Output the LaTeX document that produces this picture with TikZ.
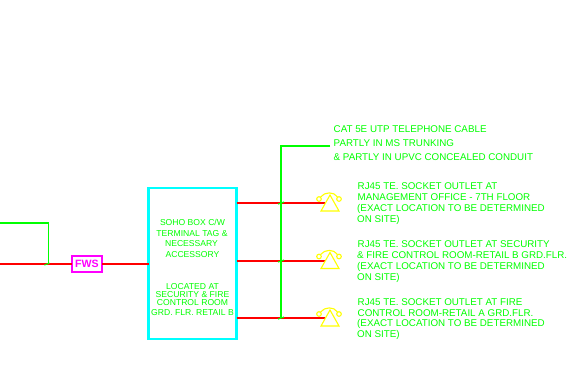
\documentclass[tikz,border=0pt]{standalone}
\usepackage{fontspec}
\setmainfont{Liberation Sans}
\usetikzlibrary{calc}
\definecolor{cy}{RGB}{0,255,255}
\definecolor{mg}{RGB}{255,0,255}
\definecolor{gn}{RGB}{0,255,0}
\definecolor{yl}{RGB}{255,255,0}
\tikzset{
  lbl/.style={text=gn,font=\fontsize{9.8}{10}\selectfont,inner sep=0pt,anchor=base west},
  boxlbl/.style={text=gn,font=\fontsize{8.6}{9}\selectfont,inner sep=0pt,anchor=base},
  redline/.style={draw=red,line width=1.9pt},
  greenline/.style={draw=gn,line width=1.9pt},
  tick/.style={draw=gn,line width=1.1pt},
  phone/.pic={
    \draw[yl,line width=1.1pt,line join=miter] (0,-16) -- (-9,0) -- (9,0) -- cycle;
    \draw[yl,line width=1.1pt] (-11,-12) circle (2.3) (9,-12) circle (2.3);
    \draw[yl,line width=1.1pt] (-9.5,-14) .. controls (-5,-19.5) and (4,-19.5) .. (7.5,-14);
  }
}
\begin{document}
\begin{tikzpicture}[x=1pt,y=-1pt]
\useasboundingbox (0,0) rectangle (572,368);
% nodes
\node[draw=cy,line width=2.1pt,outer sep=0pt,minimum width=88pt,minimum height=151pt,inner sep=0pt,anchor=north west] (soho) at (148.5,188) {};
\node[draw=mg,line width=1.9pt,outer sep=0pt,fill=white,minimum width=30pt,minimum height=16pt,inner sep=0pt,text=mg,font=\fontsize{10.6}{10}\selectfont\bfseries] (fws) at (87,264) {FWS};
\coordinate (w) at (0,264);
\coordinate (gw) at (0,223);
\coordinate (gc) at (48.5,223);
\coordinate (gj) at (48.5,264);
\coordinate (top) at (281,146);
\coordinate (topr) at (330,146);
\coordinate (o1) at (236.5,203);
\coordinate (o2) at (236.5,261);
\coordinate (o3) at (236.5,318);
\coordinate (p1) at (325,203);
\coordinate (p2) at (325,261);
\coordinate (p3) at (325,318);
\coordinate (j1) at (281,203);
\coordinate (j2) at (281,261);
\coordinate (j3) at (281,318);
% connectors
\draw[redline] (w) -- (fws.west);
\draw[redline] (fws.east) -- (soho.west |- fws.east);
\draw[redline] (o1) -- (p1);
\draw[redline] (o2) -- (p2);
\draw[redline] (o3) -- (p3);
\draw[greenline] (gw) -- (gc) -- (gj);
\draw[greenline,line join=miter] (topr) -- (top) -- (j3);
\foreach \j in {j1,j2,j3}{\draw[tick] ($(\j)+(-3,1)$) -- ($(\j)+(3,-1)$);}
\draw[tick] ($(gj)+(-4,1)$) -- ($(gj)+(1,-1)$);
% phones
\pic at (330,211) {phone};
\pic at (330,268.5) {phone};
\pic at (330,326) {phone};
% labels
\node[boxlbl] (b1) at (192.5,225.5) {SOHO BOX C/W};
\node[boxlbl] (b2) at (192,236) {TERMINAL TAG \&};
\node[boxlbl] (b3) at (191.5,246) {NECESSARY};
\node[boxlbl] (b4) at (192.5,257) {ACCESSORY};
\node[boxlbl] (b5) at (192.5,289) {LOCATED AT};
\node[boxlbl] (b6) at (192.5,297.5) {SECURITY \& FIRE};
\node[boxlbl] (b7) at (192.5,305.5) {CONTROL ROOM};
\node[boxlbl] (b8) at (192.5,315.5) {GRD. FLR. RETAIL B};
\node[lbl] (c1) at (333.5,132) {CAT 5E UTP TELEPHONE CABLE};
\node[lbl] (c2) at (333.5,146) {PARTLY IN MS TRUNKING};
\node[lbl] (c3) at (333.5,160) {\& PARTLY IN UPVC CONCEALED CONDUIT};
\node[lbl] (a1) at (357.5,189) {RJ45 TE. SOCKET OUTLET AT};
\node[lbl] (a2) at (357.5,200) {MANAGEMENT OFFICE - 7TH FLOOR};
\node[lbl] (a3) at (357,211) {(EXACT LOCATION TO BE DETERMINED};
\node[lbl] (a4) at (357,222) {ON SITE)};
\node[lbl] (d1) at (357.5,247) {RJ45 TE. SOCKET OUTLET AT SECURITY};
\node[lbl] (d2) at (357,258) {\& FIRE CONTROL ROOM-RETAIL B GRD.FLR.};
\node[lbl] (d3) at (357,269) {(EXACT LOCATION TO BE DETERMINED};
\node[lbl] (d4) at (357,280) {ON SITE)};
\node[lbl] (e1) at (357.5,305) {RJ45 TE. SOCKET OUTLET AT FIRE};
\node[lbl] (e2) at (357.5,316) {CONTROL ROOM-RETAIL A GRD.FLR.};
\node[lbl] (e3) at (357,326) {(EXACT LOCATION TO BE DETERMINED};
\node[lbl] (e4) at (357,337) {ON SITE)};
\end{tikzpicture}
\end{document}
